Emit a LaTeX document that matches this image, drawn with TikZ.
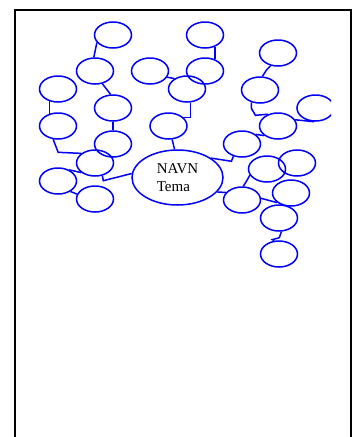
\documentclass[tikz,border=0pt]{standalone}
\usepackage{fontspec}
\setmainfont{Liberation Serif}
\usetikzlibrary{positioning,shapes.geometric}
\tikzset{
  bubble/.style={draw=blue,line width=1.5pt,ellipse,minimum width=37pt,
                 minimum height=26pt,inner sep=0pt},
  topic/.style={bubble,minimum width=91pt,minimum height=55pt,align=left,
                font=\fontsize{15}{18}\selectfont},
  link/.style={draw=blue,line width=1.5pt},
  frame/.style={draw=black,line width=2pt},
}
\begin{document}
\begin{tikzpicture}[x=1pt,y=-1pt]
  \useasboundingbox (0,0) rectangle (353,437);
  \draw[frame] (15,437) -- (15,10.3) -- (351,10.3) -- (351,437);
  % centre
  \node[topic] (c) at (177.5,177.5) {NAVN\\Tema};
  % left branch
  \node[bubble] (b1) at (113,35) {};
  \node[bubble] (b2) at (95,71) {};
  \node[bubble] (b3) at (58,89) {};
  \node[bubble] (b4) at (113,108) {};
  \node[bubble] (b5) at (58,126) {};
  \node[bubble] (b6) at (113,144) {};
  \node[bubble] (b7) at (95,163) {};
  \node[bubble] (b8) at (58,181) {};
  \node[bubble] (b9) at (95,199) {};
  % upper branch
  \node[bubble] (b10) at (150,71) {};
  \node[bubble] (b11) at (168.5,126) {};
  \node[bubble] (b12) at (187,89) {};
  \node[bubble] (b13) at (205,35) {};
  \node[bubble] (b14) at (205,71) {};
  % right branch
  \node[bubble] (b15) at (278,53) {};
  \node[bubble] (b16) at (260,90) {};
  \begin{scope}
    \clip (0,0) rectangle (331,437);
    \node[bubble] (b17) at (315.5,108) {};
  \end{scope}
  \node[bubble] (b18) at (278,126) {};
  \node[bubble] (b19) at (242,144) {};
  \node[bubble] (b20) at (267,169) {};
  \node[bubble] (b21) at (297,163) {};
  \node[bubble] (b22) at (242,200) {};
  \node[bubble] (b23) at (291,193) {};
  \node[bubble] (b24) at (279,218) {};
  \node[bubble] (b25) at (279,254) {};
  % connectors
  \draw[link] (b1.205) -- (b2.95);
  \draw[link] (b2.300) -- (b4.100);
  \draw[link] (b4) -- (b6);
  \draw[link] (b3.235) -- (b5.125);
  \draw[link] (b5.250) -- ++(5,13) -- (b7.145);
  \draw[link] (b8.45) -- (b7.215);
  \draw[link] (b8.320) -- (b9.165);
  \draw[link] (b7.300) -- ++(1,5) -- (c.175);
  \draw[link] (b10.340) -- (b12.140);
  \draw[link] (b11.285) -- (c.96);
  \draw[link] (b13.310) -- (b14.50);
  \draw[link] (b12.285) |- (b11.30);
  \draw[link] (b15.240) -- ++(-4,4) -- (b16.80);
  \draw[link] (b16.235) -- ++(0,6) -- ++(4,7) -- (b18.130);
  \draw[link] (b18.20) -- (b17.265);
  \draw[link] (b18.215) -- (b19.35);
  \draw[link] (b19.235) -- ++(-2,5) -- (c.30);
  \draw[link] (b20.200) -- ++(-4,7) -- (b22.85);
  \draw[link] (c.340) -- (b22.155);
  \draw[link] (b22.5) -- (b23.215);
  \draw[link] (b24.280) -- ++(-2,6) -- ++(-7,2) -- (b25.110);
\end{tikzpicture}
\end{document}
